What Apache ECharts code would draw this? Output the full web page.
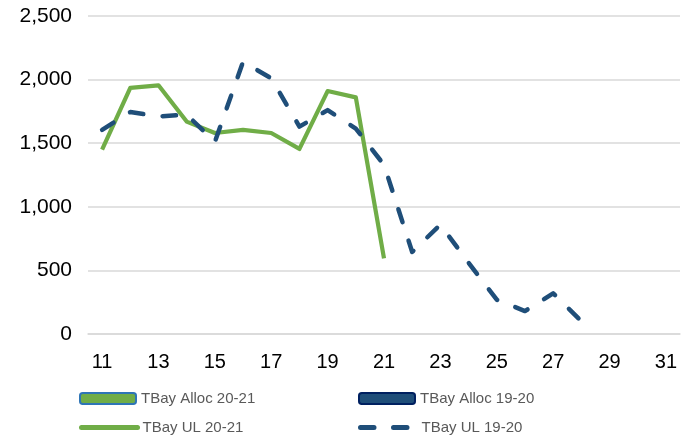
<!DOCTYPE html>
<html>
<head>
<meta charset="utf-8">
<script src="https://cdn.jsdelivr.net/npm/echarts@6/dist/echarts.min.js"></script>
<style>
  html, body { margin: 0; padding: 0; background: #fff; }
  #chart { width: 693px; height: 438px; }
</style>
</head>
<body>
<div id="chart"></div>
<script>
// weeks 11..31
const weeks = ['11','12','13','14','15','16','17','18','19','20','21','22','23','24','25','26','27','28','29','30','31'];
const ul2021 = [1450, 1935, 1955, 1670, 1580, 1605, 1580, 1455, 1910, 1860, 595];
const ul1920 = [1605, 1745, 1710, 1725, 1510, 2140, 2010, 1630, 1760, 1615, 1330, 645, 860, 560, 270, 180, 320, 100];
const alloc2021 = [];
const alloc1920 = [];

const font = 'Liberation Sans, Arial, sans-serif';

// one legend per entry so they sit in a 2x2 block like the original
function legendAt(name, left, top, isLine) {
  const l = {
    left: left, top: top, padding: 0,
    itemWidth: 56, itemHeight: 11, itemGap: 5,
    textStyle: { fontSize: 15, color: '#595959', fontFamily: font },
    data: [name]
  };
  if (isLine) {
    l.itemStyle = { opacity: 0 };
    l.lineStyle = { width: 5, cap: 'round' };
  }
  return l;
}

const chart = echarts.init(document.getElementById('chart'));

const option = {
  animation: false,
  textStyle: { fontFamily: font },
  grid: { left: 88, right: 13, top: 16, bottom: 104 },
  legend: [
    legendAt('TBay Alloc 20-21', 79, 391, false),
    legendAt('TBay UL 20-21', 79, 420, true),
    legendAt('TBay Alloc 19-20', 358, 391, false),
    legendAt('TBay UL 19-20', 358, 420, true)
  ],
  xAxis: {
    type: 'category',
    data: weeks,
    boundaryGap: true,
    axisLine: { lineStyle: { color: '#d9d9d9', width: 1.5 } },
    axisTick: { show: false },
    axisLabel: { interval: 1, fontSize: 20, color: '#000', margin: 18 }
  },
  yAxis: {
    type: 'value',
    min: 0, max: 2500, interval: 500,
    axisLine: { show: false },
    axisTick: { show: false },
    axisLabel: {
      fontSize: 21, color: '#000', margin: 16, padding: [5, 0, 0, 0],
      formatter: v => v.toLocaleString('en-US')
    },
    splitLine: { lineStyle: { color: '#d9d9d9', width: 1.5 } }
  },
  series: [
    {
      name: 'TBay Alloc 20-21', type: 'bar', data: alloc2021,
      itemStyle: { color: '#70ad47', borderColor: '#2e75b6', borderWidth: 1.5 }
    },
    {
      name: 'TBay Alloc 19-20', type: 'bar', data: alloc1920,
      itemStyle: { color: '#1f4e79', borderColor: '#002060', borderWidth: 1.5 }
    },
    {
      name: 'TBay UL 20-21', type: 'line', data: ul2021,
      symbol: 'none',
      itemStyle: { color: '#70ad47' },
      lineStyle: { color: '#70ad47', width: 4.2, join: 'round' }
    },
    {
      name: 'TBay UL 19-20', type: 'line', data: ul1920,
      symbol: 'none',
      itemStyle: { color: '#1f4e79' },
      lineStyle: { color: '#1f4e79', width: 4.5, type: [13.5, 19.5], cap: 'round', join: 'round' }
    }
  ]
};

chart.setOption(option);
</script>
</body>
</html>
